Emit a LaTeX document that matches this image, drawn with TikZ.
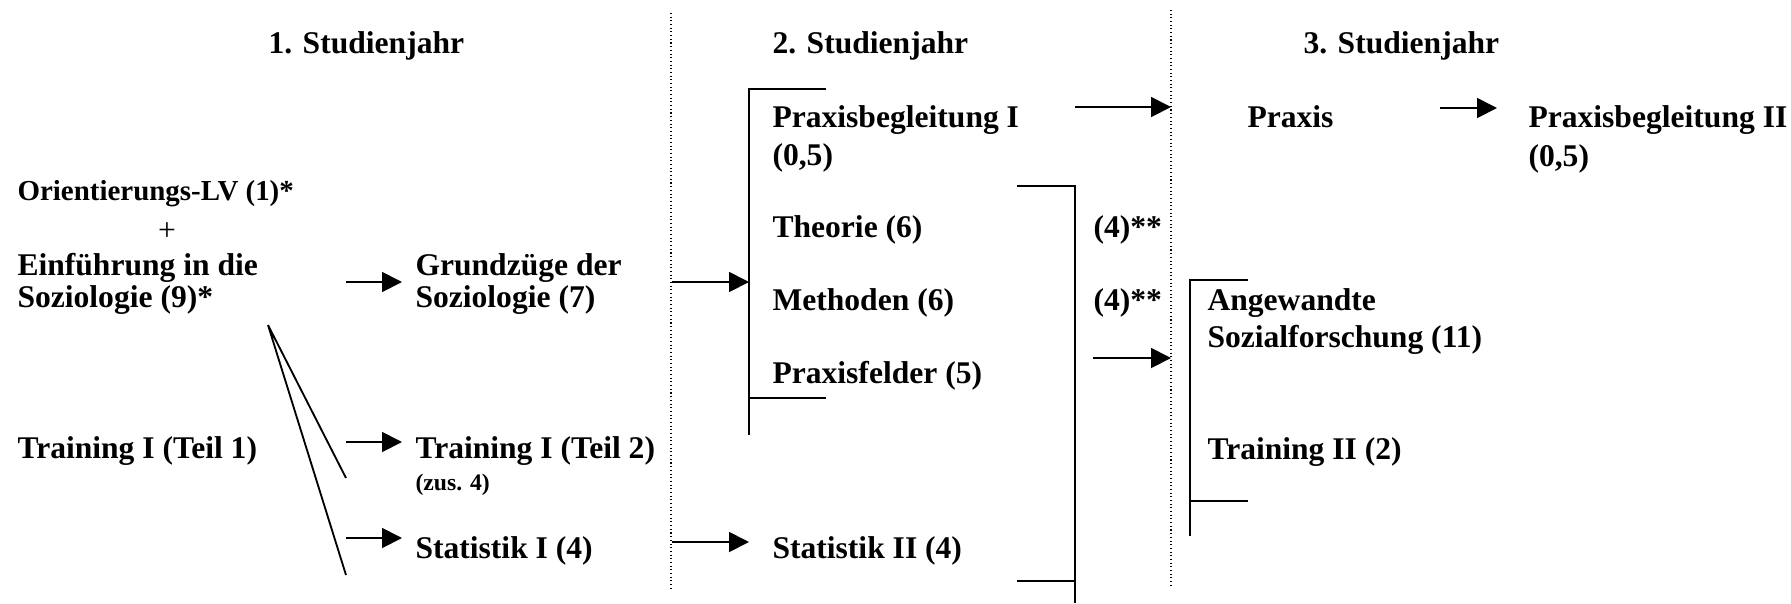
\documentclass[tikz,border=0pt]{standalone}
\usepackage{fontspec}
\setmainfont{Liberation Serif}
\usetikzlibrary{arrows.meta}
\begin{document}
\begin{tikzpicture}[x=0.38pt,y=-0.38pt,
  lbl/.style={anchor=base west,inner sep=0pt,font=\fontsize{12}{14}\selectfont\bfseries},
  small/.style={lbl,font=\fontsize{11}{13}\selectfont\bfseries},
  tiny/.style={lbl,font=\fontsize{9}{11}\selectfont\bfseries},
  arr/.style={line width=0.7pt,-{Triangle[length=7.6pt,width=7.6pt]}},
  ln/.style={line width=0.7pt},
  sep/.style={line width=0.4pt,densely dotted}]
\useasboundingbox (0,0) rectangle (1791,603);
% headers
\node[lbl] (h1) at (268,53) {1. Studienjahr};
\node[lbl] (h2) at (772,53) {2. Studienjahr};
\node[lbl] (h3) at (1303,53) {3. Studienjahr};
% column 1
\node[small] (orient) at (17,200) {Orientierungs-LV (1)*};
\node[anchor=base,inner sep=0pt,font=\fontsize{12}{14}\selectfont] (plus) at (167,240) {+};
\node[lbl] (ein1) at (17,275) {Einführung in die};
\node[lbl] (ein2) at (17,307) {Soziologie (9)*};
\node[lbl] (tr1) at (17,458) {Training I (Teil 1)};
\node[lbl] (gz1) at (415,275) {Grundzüge der};
\node[lbl] (gz2) at (415,307) {Soziologie (7)};
\node[lbl] (tr2) at (415,458) {Training I (Teil 2)};
\node[tiny] (zus) at (415,490) {(zus. 4)};
\node[lbl] (st1) at (415,558) {Statistik I (4)};
% column 2
\node[lbl] (pb1a) at (772,127) {Praxisbegleitung I};
\node[lbl] (pb1b) at (772,165) {(0,5)};
\node[lbl] (theo) at (772,237) {Theorie (6)};
\node[lbl] (meth) at (772,310) {Methoden (6)};
\node[lbl] (pf) at (772,383) {Praxisfelder (5)};
\node[lbl] (st2) at (772,558) {Statistik II (4)};
\node[lbl] (k1) at (1093,237) {(4)**};
\node[lbl] (k2) at (1093,310) {(4)**};
% column 3
\node[lbl] (prax) at (1247,127) {Praxis};
\node[lbl] (pb2a) at (1528,127) {Praxisbegleitung II};
\node[lbl] (pb2b) at (1528,166) {(0,5)};
\node[lbl] (asf1) at (1207,310) {Angewandte};
\node[lbl] (asf2) at (1207,347) {Sozialforschung (11)};
\node[lbl] (tr3) at (1207,459) {Training II (2)};
% separators
\coordinate (s1t) at (671,13);  \coordinate (s1b) at (671,588);
\coordinate (s2t) at (1171,10); \coordinate (s2b) at (1171,587);
\draw[sep] (s1t) -- (s1b);
\draw[sep] (s2t) -- (s2b);
% brackets
\coordinate (b1a) at (826,89);  \coordinate (b1b) at (749,89);
\coordinate (b1c) at (749,435); \coordinate (b1d) at (749,398); \coordinate (b1e) at (826,398);
\draw[ln] (b1a) -- (b1b) -- (b1c);
\draw[ln] (b1d) -- (b1e);
\coordinate (b2a) at (1017,186); \coordinate (b2b) at (1075,186);
\coordinate (b2c) at (1075,603); \coordinate (b2d) at (1017,581); \coordinate (b2e) at (1075,581);
\draw[ln] (b2a) -- (b2b) -- (b2c);
\draw[ln] (b2d) -- (b2e);
\coordinate (b3a) at (1248,280); \coordinate (b3b) at (1190,280);
\coordinate (b3c) at (1190,536); \coordinate (b3d) at (1190,501); \coordinate (b3e) at (1248,501);
\draw[ln] (b3a) -- (b3b) -- (b3c);
\draw[ln] (b3d) -- (b3e);
% diagonals
\coordinate (dg) at (268,325);
\coordinate (dg1) at (346,478);
\coordinate (dg2) at (346,575);
\draw[ln] (dg1) -- (dg) -- (dg2);
% arrows
\coordinate (a1s) at (346,282); \coordinate (a1e) at (402,282);
\coordinate (a2s) at (346,442); \coordinate (a2e) at (402,442);
\coordinate (a3s) at (346,538); \coordinate (a3e) at (402,538);
\coordinate (a4s) at (672,282); \coordinate (a4e) at (749,282);
\coordinate (a5s) at (672,542); \coordinate (a5e) at (749,542);
\coordinate (a6s) at (1075,107); \coordinate (a6e) at (1171,107);
\coordinate (a7s) at (1093,358); \coordinate (a7e) at (1171,358);
\coordinate (a8s) at (1440,108); \coordinate (a8e) at (1497,108);
\draw[arr] (a1s) -- (a1e);
\draw[arr] (a2s) -- (a2e);
\draw[arr] (a3s) -- (a3e);
\draw[arr] (a4s) -- (a4e);
\draw[arr] (a5s) -- (a5e);
\draw[arr] (a6s) -- (a6e);
\draw[arr] (a7s) -- (a7e);
\draw[arr] (a8s) -- (a8e);
\end{tikzpicture}
\end{document}
